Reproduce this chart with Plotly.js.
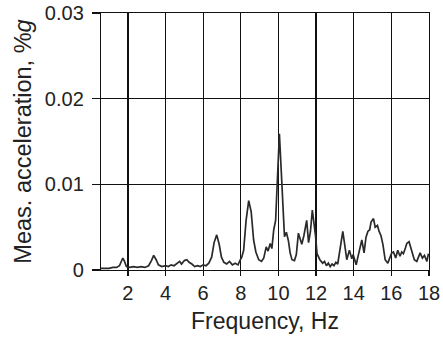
<!DOCTYPE html>
<html>
<head>
<meta charset="utf-8">
<script src="https://cdn.plot.ly/plotly-3.0.1.min.js"></script>
<style>html,body{margin:0;padding:0;background:#fff;}#chart{width:443px;height:339px;}</style>
</head>
<body>
<div id="chart"></div>
<script>
const frequency = [0.57,0.8,1.0,1.2,1.4,1.55,1.65,1.73,1.82,1.92,2.1,2.3,2.5,2.7,2.9,3.1,3.25,3.37,3.5,3.62,3.8,4.0,4.15,4.3,4.45,4.6,4.75,4.85,5.0,5.13,5.25,5.4,5.55,5.7,5.85,6.0,6.15,6.3,6.45,6.58,6.72,6.85,6.97,7.1,7.25,7.4,7.55,7.7,7.85,7.95,8.05,8.15,8.28,8.42,8.55,8.68,8.8,8.95,9.1,9.22,9.35,9.45,9.56,9.65,9.75,9.85,9.95,10.05,10.15,10.25,10.32,10.42,10.53,10.62,10.72,10.85,10.95,11.06,11.15,11.24,11.35,11.5,11.6,11.7,11.8,11.9,11.97,12.05,12.2,12.35,12.45,12.55,12.65,12.75,12.85,12.95,13.05,13.15,13.28,13.42,13.55,13.63,13.77,13.9,13.97,14.07,14.13,14.22,14.3,14.43,14.55,14.65,14.75,14.85,14.92,15.05,15.14,15.26,15.35,15.45,15.55,15.67,15.81,15.93,16.02,16.11,16.23,16.34,16.46,16.55,16.64,16.75,16.82,16.94,17.08,17.22,17.35,17.45,17.53,17.65,17.76,17.89,17.97];
const acceleration = [0.0002,0.0002,0.0002,0.0003,0.0003,0.0005,0.0011,0.0014,0.0010,0.0004,0.0003,0.0004,0.0003,0.0004,0.0003,0.0005,0.0011,0.0017,0.0012,0.0006,0.0004,0.0005,0.0004,0.0006,0.0005,0.0008,0.0010,0.0007,0.0011,0.0012,0.0009,0.0007,0.0004,0.0005,0.0004,0.0006,0.0005,0.0008,0.0015,0.0032,0.0041,0.0030,0.0015,0.0009,0.0007,0.0010,0.0006,0.0008,0.0006,0.0011,0.0015,0.0023,0.0058,0.0081,0.0068,0.0035,0.0021,0.0012,0.0010,0.0014,0.0027,0.0022,0.0031,0.0025,0.0047,0.0058,0.0120,0.0159,0.0115,0.0060,0.0039,0.0044,0.0034,0.0020,0.0012,0.0011,0.0018,0.0043,0.0036,0.0030,0.0040,0.0058,0.0032,0.0045,0.0070,0.0055,0.0040,0.0019,0.0012,0.0008,0.0010,0.0005,0.0008,0.0004,0.0007,0.0005,0.0009,0.0007,0.0028,0.0045,0.0025,0.0012,0.0023,0.0013,0.0018,0.0010,0.0006,0.0015,0.0023,0.0035,0.0020,0.0038,0.0045,0.0047,0.0056,0.0060,0.0050,0.0052,0.0045,0.0040,0.0030,0.0012,0.0008,0.0015,0.0020,0.0021,0.0014,0.0023,0.0016,0.0021,0.0019,0.0026,0.0031,0.0033,0.0023,0.0012,0.0010,0.0015,0.0020,0.0014,0.0017,0.0010,0.0019];
const xTicks = [2,4,6,8,10,12,14,16,18];
const xTickText = ["2","4","6","8","10","12","14","16","18"];
const yTicks = [0,0.01,0.02,0.03];
const yTickText = ["0","0.01","0.02","0.03"];

const trace = {
  x: frequency, y: acceleration, type: 'scatter', mode: 'lines',
  line: {color: '#2a2a2a', width: 1.7}, hoverinfo: 'skip'
};
const fontFam = '"Liberation Sans", Arial, Helvetica, sans-serif';
const layout = {
  width: 443, height: 339,
  margin: {l: 101, r: 14, t: 13, b: 69},
  paper_bgcolor: '#fff', plot_bgcolor: '#fff',
  showlegend: false,
  font: {family: fontFam, color: '#222', size: 20},
  xaxis: {
    range: [0.57, 18], tickvals: xTicks, ticktext: xTickText,
    showgrid: true, gridcolor: '#111', gridwidth: 1.2,
    showline: true, linecolor: '#111', linewidth: 1.2, mirror: true,
    ticks: 'outside', ticklen: 5, tickcolor: '#111', tickwidth: 1.2,
    zeroline: false, tickfont: {size: 20, family: fontFam, color: '#222'},
    title: {text: 'Frequency, Hz', font: {size: 23, family: fontFam, color: '#222'}, standoff: 9}
  },
  yaxis: {
    range: [0, 0.03], tickvals: yTicks, ticktext: yTickText,
    showgrid: true, gridcolor: '#111', gridwidth: 1.2,
    showline: true, linecolor: '#111', linewidth: 1.2, mirror: true,
    ticks: 'outside', ticklen: 8, tickcolor: '#111', tickwidth: 1.2,
    ticklabelstandoff: 4,
    zeroline: false, tickfont: {size: 20, family: fontFam, color: '#222'},
    title: {text: 'Meas. acceleration, %<i>g</i>', font: {size: 23.5, family: fontFam, color: '#222'}, standoff: 6}
  }
};
Plotly.newPlot('chart', [trace], layout, {staticPlot: true, displayModeBar: false});
</script>
</body>
</html>
